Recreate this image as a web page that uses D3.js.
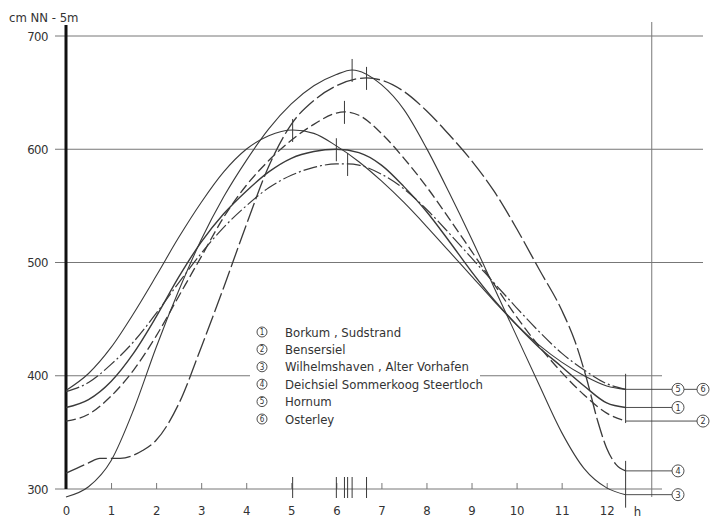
<!DOCTYPE html>
<html>
<head>
<meta charset="utf-8">
<script src="https://cdn.jsdelivr.net/npm/d3@7"></script>
<style>
	body { margin: 0; background: #fff; }
	text { font-family: "DejaVu Sans Condensed", "DejaVu Sans", sans-serif; font-stretch: condensed; fill: #333; }
</style>
</head>
<body>
<svg id="svg" width="711" height="518"></svg>
<script>
const width = 711;
const height = 518;
const lineColor = '#3a3a3a';
const gridColor = '#777';
const textColor = '#333';
let xScale;
let yScale;

// tick values
const xTicks = [0, 1, 2, 3, 4, 5, 6, 7, 8, 9, 10, 11, 12];
const yTicks = [300, 400, 500, 600, 700];
const yUnit = 'cm NN - 5m';
const xUnit = 'h';
const tideEnd = 12.42;

// station names (legend order)
const stations = [
	'Borkum , Sudstrand',
	'Bensersiel',
	'Wilhelmshaven , Alter Vorhafen',
	'Deichsiel  Sommerkoog  Steertloch',
	'Hornum',
	'Osterley'
];

// [hour, cm]
const borkum = [[0,372],[0.5,379],[1,395],[1.5,420],[2,452],[2.5,487],[3,518],[3.5,543],[4,563],[4.5,580],[5,592],[5.5,598],[6,600],[6.5,597],[7,586],[7.5,567],[8,545],[8.5,519],[9,492],[9.5,467],[10,445],[10.5,425],[11,408],[11.5,391],[12,376],[12.42,372]];
const bensersiel = [[0,360],[0.5,366],[1,382],[1.5,405],[2,435],[2.5,470],[3,505],[3.5,540],[4,568],[4.5,590],[5,608],[5.5,622],[6,632],[6.18,633],[6.5,630],[7,614],[7.5,592],[8,567],[8.5,539],[9,510],[9.5,481],[10,452],[10.5,426],[11,403],[11.5,383],[12,367],[12.42,360]];
const wilhelmshaven = [[0,293],[0.5,302],[1,325],[1.5,370],[2,425],[2.5,475],[3,520],[3.5,558],[4,590],[4.5,618],[5,640],[5.5,656],[6,666],[6.35,670],[7,657],[7.5,635],[8,601],[8.5,562],[9,521],[9.5,478],[10,435],[10.5,392],[11,350],[11.5,318],[12,301],[12.42,295]];
const deichsiel = [[0,314],[0.5,323],[0.75,327],[1.2,327],[1.7,334],[2,343],[2.5,375],[3,425],[3.5,478],[4,533],[4.5,585],[5,622],[5.5,643],[6,656],[6.67,663],[7,661],[7.5,651],[8,634],[8.5,613],[9,590],[9.5,563],[10,530],[10.5,494],[11,458],[11.3,430],[11.55,398],[11.8,360],[12,336],[12.2,322],[12.42,316]];
const hornum = [[0,387],[0.5,402],[1,425],[1.5,455],[2,488],[2.5,522],[3,553],[3.5,580],[4,600],[4.5,612],[5.03,617],[5.5,614],[6,603],[6.5,589],[7,572],[7.5,553],[8,532],[8.5,510],[9,488],[9.5,466],[10,445],[10.5,427],[11,412],[11.5,400],[12,391],[12.42,388]];
const osterley = [[0,386],[0.5,394],[1,410],[1.5,430],[2,455],[2.5,482],[3,508],[3.5,531],[4,550],[4.5,566],[5,577],[5.5,584],[6,587],[6.25,587],[6.5,586],[7,578],[7.5,565],[8,547],[8.5,526],[9,504],[9.5,482],[10,460],[10.5,439],[11,420],[11.5,405],[12,393],[12.42,388]];

// high water time and level per station
const hwTimes = [6.0, 6.18, 6.35, 6.67, 5.03, 6.25];
const hwLevels = [600, 633, 670, 663, 617, 587];

const seriesList = [borkum, bensersiel, wilhelmshaven, deichsiel, hornum, osterley];
const dashes = [null, '10,4', null, '20,4', null, '14,3,2,3'];
const widths = [1.4, 1.3, 1.1, 1.3, 1.1, 1.2];

const svg = d3.select('#svg');
generateAxis();
generateGrids();
renderLegend();
renderData();
renderEndLabels();


function generateAxis() {
	xScale = d3.scaleLinear()
	                .domain([0, 12])
	                .range([66, 606.7]);

	yScale = d3.scaleLinear()
	                .domain([300, 700])
	                .range([489, 36]);

	const xAxis = d3.axisBottom(xScale)
	                .tickValues(xTicks)
	                .tickSizeInner(-6)
	                .tickSizeOuter(0)
	                .tickPadding(17);

	const yAxis = d3.axisLeft(yScale)
	                .tickValues(yTicks)
	                .tickSize(0)
	                .tickPadding(18);

	const gx = svg.append('g')
		  .attr('class', 'x-axis-group')
		  .attr('transform', 'translate(0,' + yScale(300) + ')')
		  .call(xAxis);
	gx.select('.domain').remove();
	gx.selectAll('.tick line').attr('stroke', gridColor);
	gx.selectAll('.tick text').attr('font-size', 13).attr('fill', textColor);

	const gy = svg.append('g')
		  .attr('class', 'y-axis-group')
		  .attr('transform', 'translate(' + xScale(0) + ',0)')
		  .call(yAxis);
	gy.select('.domain').remove();
	gy.selectAll('.tick text').attr('font-size', 13).attr('fill', textColor).attr('letter-spacing', -0.5);

	svg.append('text')
		  .attr('x', 9)
		  .attr('y', 22)
		  .attr('font-size', 13)
		  .text(yUnit);

	svg.append('text')
		  .attr('x', xScale(12.6))
		  .attr('y', 516)
		  .attr('font-size', 13)
		  .text(xUnit);
}

function generateGrids() {
	svg.selectAll(null)
		  .data(yTicks)
		  .enter()
		  .append('line')
		  .attr('x1', 55)
		  .attr('x2', d => d >= 500 ? 703 : 662)
		  .attr('y1', d => yScale(d))
		  .attr('y2', d => yScale(d))
		  .attr('stroke', gridColor)
		  .attr('stroke-width', 1);

	// long vertical reference line
	svg.append('line')
		  .attr('x1', xScale(13))
		  .attr('x2', xScale(13))
		  .attr('y1', 22)
		  .attr('y2', 497)
		  .attr('stroke', gridColor)
		  .attr('stroke-width', 1);

	// end-of-tide markers
	[[yScale(392) - 11, yScale(360) + 2], [yScale(316) - 10, yScale(295) + 13]].forEach(s => {
		svg.append('line')
			  .attr('x1', xScale(tideEnd))
			  .attr('x2', xScale(tideEnd))
			  .attr('y1', s[0])
			  .attr('y2', s[1])
			  .attr('stroke', lineColor)
			  .attr('stroke-width', 1);
	});

	// y axis
	svg.append('line')
		  .attr('x1', xScale(0))
		  .attr('x2', xScale(0))
		  .attr('y1', 25)
		  .attr('y2', yScale(300))
		  .attr('stroke', '#111')
		  .attr('stroke-width', 3);
}

function renderLegend() {
	svg.append('rect')
		  .attr('x', 250)
		  .attr('y', 323)
		  .attr('width', 230)
		  .attr('height', 105)
		  .attr('fill', '#fff');

	const rows = svg.selectAll(null)
		  .data(stations)
		  .enter()
		  .append('g')
		  .attr('transform', (d, i) => 'translate(262,' + (332 + i * 17.4) + ')');

	rows.append('circle')
		  .attr('r', 5)
		  .attr('fill', 'none')
		  .attr('stroke', lineColor)
		  .attr('stroke-width', 0.9);

	rows.append('text')
		  .attr('text-anchor', 'middle')
		  .attr('dy', '0.35em')
		  .attr('font-size', 8)
		  .text((d, i) => i + 1);

	rows.append('text')
		  .attr('x', 23)
		  .attr('dy', '0.36em')
		  .attr('font-size', 13)
		  .text(d => d);
}

function renderData() {
	const line = d3.line()
		  .x(d => xScale(d[0]))
		  .y(d => yScale(d[1]))
		  .curve(d3.curveMonotoneX);

	svg.append('g')
		  .classed('path', true)
		  .selectAll('path')
		  .data(seriesList)
		  .enter()
		  .append('path')
		  .attr('d', d => line(d))
		  .attr('fill', 'none')
		  .attr('stroke', lineColor)
		  .attr('stroke-width', (d, i) => widths[i])
		  .attr('stroke-dasharray', (d, i) => dashes[i]);

	// high water marks on the curves
	svg.selectAll(null)
		  .data(hwTimes)
		  .enter()
		  .append('line')
		  .attr('x1', d => xScale(d))
		  .attr('x2', d => xScale(d))
		  .attr('y1', (d, i) => yScale(hwLevels[i]) - 11)
		  .attr('y2', (d, i) => yScale(hwLevels[i]) + 12)
		  .attr('stroke', lineColor)
		  .attr('stroke-width', 1);

	// high water marks on the time axis
	svg.selectAll(null)
		  .data(hwTimes)
		  .enter()
		  .append('line')
		  .attr('x1', d => xScale(d))
		  .attr('x2', d => xScale(d))
		  .attr('y1', yScale(300) - 12)
		  .attr('y2', yScale(300) + 9)
		  .attr('stroke', lineColor)
		  .attr('stroke-width', 1);
}

function renderEndLabels() {
	// [station index, circle x]
	const ends = [[4, 678], [5, 703], [0, 678], [1, 703], [3, 678], [2, 678]];
	const xEnd = xScale(tideEnd);
	const hornumEnd = yScale(hornum[hornum.length - 1][1]);

	ends.forEach(e => {
		const series = seriesList[e[0]];
		const cy = e[0] === 5 ? hornumEnd : yScale(series[series.length - 1][1]);
		const x0 = e[0] === 5 ? 684 : xEnd;
		svg.append('line')
			  .attr('x1', x0)
			  .attr('x2', e[1] - 6)
			  .attr('y1', cy)
			  .attr('y2', cy)
			  .attr('stroke', lineColor)
			  .attr('stroke-width', 0.9);
		svg.append('circle')
			  .attr('cx', e[1])
			  .attr('cy', cy)
			  .attr('r', 6)
			  .attr('fill', '#fff')
			  .attr('stroke', lineColor)
			  .attr('stroke-width', 0.9);
		svg.append('text')
			  .attr('x', e[1])
			  .attr('y', cy)
			  .attr('dy', '0.35em')
			  .attr('text-anchor', 'middle')
			  .attr('font-size', 9)
			  .text(e[0] + 1);
	});
}
</script>
</body>
</html>
